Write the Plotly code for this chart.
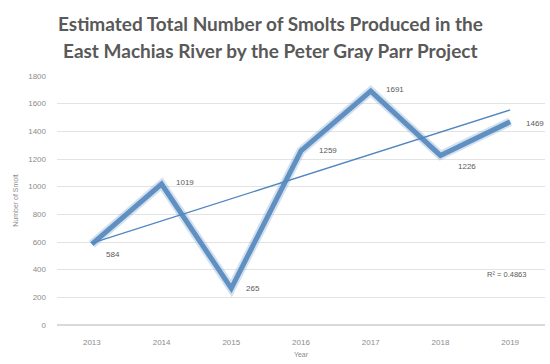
import plotly.graph_objects as go
import numpy as np

years = ["2013", "2014", "2015", "2016", "2017", "2018", "2019"]
smolts = [584, 1019, 265, 1259, 1691, 1226, 1469]
y_ticks = [0, 200, 400, 600, 800, 1000, 1200, 1400, 1600, 1800]
r2_text = "R² = 0.4863"
title_lines = ["Estimated Total Number of Smolts Produced in the",
               "East Machias River by the Peter Gray Parr Project"]

xi = list(range(len(years)))
# linear trendline (least squares fit of the series)
slope, intercept = np.polyfit(np.array(xi) + 1, smolts, 1)
trend = [slope * (i + 1) + intercept for i in xi]

fig = go.Figure()
# soft shadow under the main line
fig.add_trace(go.Scatter(x=xi, y=smolts, mode="lines",
                         line=dict(color="rgba(130,170,210,0.35)", width=9),
                         hoverinfo="skip", showlegend=False))
fig.add_trace(go.Scatter(x=xi, y=smolts, mode="lines",
                         line=dict(color="#6090C2", width=5),
                         showlegend=False))
fig.add_trace(go.Scatter(x=xi, y=trend, mode="lines",
                         line=dict(color="#4F86C0", width=1.3),
                         showlegend=False))

# data labels (offsets in pixels)
offsets = [(12, -10), (12, 2), (13, 0), (16, 0), (13, 2), (16, -11), (14, -2)]
for i, v, (dx, dy) in zip(xi, smolts, offsets):
    fig.add_annotation(x=i, y=v, xref="x", yref="y", text=str(v), showarrow=False,
                       xanchor="left", xshift=dx, yshift=dy,
                       font=dict(size=8, color="#595959", family="Liberation Sans"))

fig.add_annotation(x=0.965, xref="paper", y=365, yref="y", text=r2_text,
                   showarrow=False, xanchor="right",
                   font=dict(size=7.5, color="#595959", family="Liberation Sans"))

pw, ph = 550 - 57 - 5, 364 - 76 - 39
for line, ypx in zip(title_lines, [23, 50]):
    fig.add_annotation(x=(270 - 57) / pw, xref="paper", y=(364 - 39 - ypx) / ph, yref="paper",
                       text=line, showarrow=False, xanchor="center", yanchor="middle",
                       font=dict(size=19, color="#595959", family="Lato", weight="bold"))

fig.update_layout(
    width=550, height=364,
    margin=dict(l=57, r=5, t=76, b=39),
    paper_bgcolor="white", plot_bgcolor="white",
    xaxis=dict(range=[-0.5, 6.5], tickvals=xi, ticktext=years,
               showgrid=False, showline=False, ticks="", zeroline=False,
               tickfont=dict(size=8, color="#8C8C8C", family="Liberation Sans"),
               ticklabelstandoff=11,
               title=dict(text="Year", font=dict(size=7, color="#8C8C8C", family="Liberation Sans"),
                          standoff=6)),
    yaxis=dict(range=[0, 1800], tickvals=y_ticks, showgrid=True, gridcolor="#E3E3E3",
               gridwidth=1, zeroline=True, zerolinecolor="#D9D9D9", showline=False,
               tickfont=dict(size=8, color="#8C8C8C", family="Liberation Sans"),
               ticklabelstandoff=10,
               title=dict(text="Number of Smolt", font=dict(size=7, color="#8C8C8C", family="Liberation Sans"),
                          standoff=8)),
)

fig.write_html("out.html")
